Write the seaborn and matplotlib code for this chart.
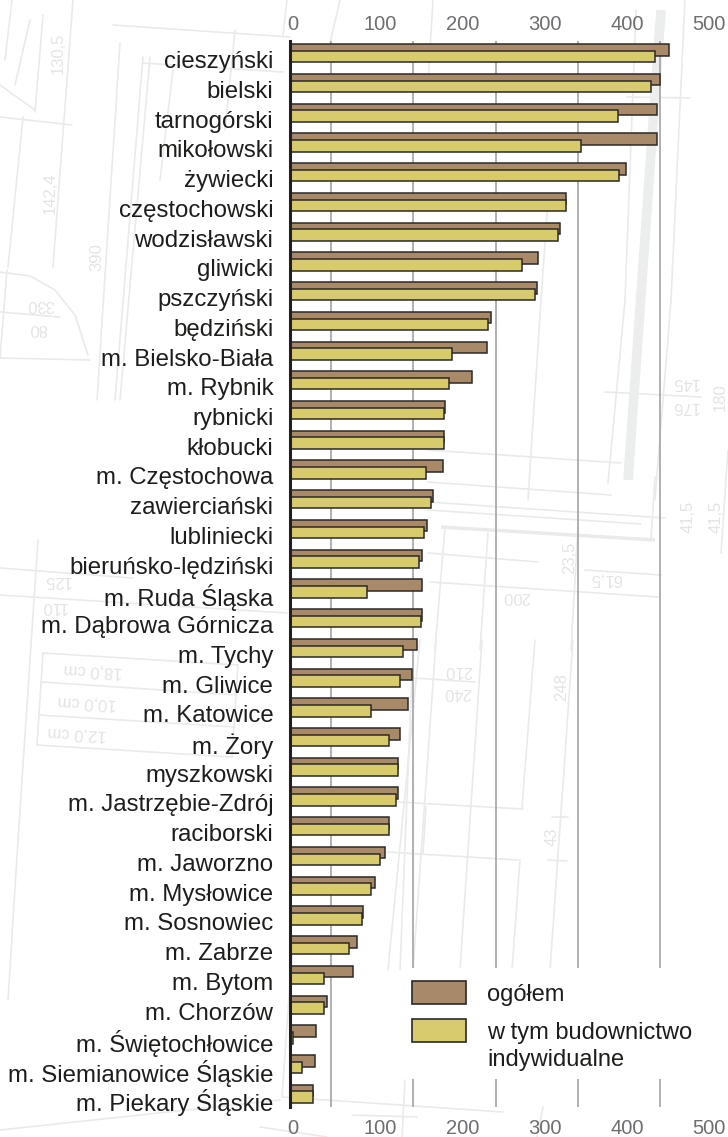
"""
Mieszkania oddane do uzytkowania wg powiatow - poziomy wykres slupkowy
"""

import numpy as np
import matplotlib
matplotlib.use("Agg")
import matplotlib.pyplot as plt
from matplotlib.patches import Rectangle
from matplotlib.transforms import ScaledTranslation
import seaborn as sns

# ── Data ──────────────────────────────────────────────────────────────────────
powiaty = [
    "cieszyński", "bielski", "tarnogórski", "mikołowski", "żywiecki",
    "częstochowski", "wodzisławski", "gliwicki", "pszczyński", "będziński",
    "m. Bielsko-Biała", "m. Rybnik", "rybnicki", "kłobucki", "m. Częstochowa",
    "zawierciański", "lubliniecki", "bieruńsko-lędziński", "m. Ruda Śląska",
    "m. Dąbrowa Górnicza", "m. Tychy", "m. Gliwice", "m. Katowice", "m. Żory",
    "myszkowski", "m. Jastrzębie-Zdrój", "raciborski", "m. Jaworzno",
    "m. Mysłowice", "m. Sosnowiec", "m. Zabrze", "m. Bytom", "m. Chorzów",
    "m. Świętochłowice", "m. Siemianowice Śląskie", "m. Piekary Śląskie",
]
ogolem = [
    461, 450, 447, 447, 409, 336, 328, 302, 300, 245, 240, 222, 188, 187, 186,
    174, 167, 161, 160, 160, 154, 149, 144, 134, 131, 131, 120, 115, 104, 89,
    81, 77, 45, 32, 30, 28,
]
indywidualne = [
    444, 439, 399, 354, 400, 336, 326, 282, 298, 241, 197, 194, 187, 187, 165,
    172, 163, 157, 94, 159, 138, 134, 98, 121, 131, 129, 120, 109, 99, 88,
    72, 41, 41, 4, 15, 28,
]
x_ticks = [0, 100, 200, 300, 400, 500]
x_grid = [50, 100, 150, 200, 250, 300, 350, 400, 450, 500]

# faint blueprint behind the chart, in image pixels (x0, y0, x1, y1)
blueprint_lines = [
    # top left
    (43, 15, 35, 112), (73, 0, 53, 267), (23, 117, 8, 267), (0, 117, 72, 125),
    (0, 85, 35, 110), (0, 312, 60, 317), (0, 358, 90, 360), (7, 270, 0, 358),
    (120, 43, 97, 400), (143, 57, 115, 400), (150, 57, 120, 400),
    (113, 25, 290, 37), (143, 63, 283, 72), (173, 70, 160, 180),
    (235, 30, 225, 130), (287, 0, 283, 35), (12, 0, 5, 60), (30, 20, 15, 85),
    # left, table
    (0, 568, 133, 578), (0, 595, 287, 613), (38, 540, 18, 840), (18, 840, 8, 1000),
    (43, 653, 238, 665), (238, 665, 232, 757), (232, 757, 37, 745), (37, 745, 43, 653),
    (42, 682, 237, 695), (39, 715, 235, 727),
    # right
    (671, 300, 655, 500), (625, 300, 608, 483), (541, 300, 528, 500),
    (428, 450, 621, 463), (428, 482, 611, 495), (428, 502, 665, 518),
    (428, 510, 641, 524), (428, 553, 538, 562), (430, 582, 658, 597),
    (605, 392, 701, 397), (585, 570, 661, 575), (445, 527, 435, 650),
    (488, 533, 480, 650), (578, 527, 571, 650), (655, 477, 651, 540),
    (728, 450, 721, 553), (636, 10, 625, 300), (685, 0, 671, 300),
    (627, 97, 690, 98), (433, 0, 428, 83), (340, 0, 330, 43), (541, 300, 548, 200),
    # middle
    (482, 640, 460, 970), (535, 640, 522, 808), (520, 860, 512, 970),
    (573, 640, 550, 970), (436, 640, 413, 970), (420, 640, 388, 970),
    (412, 673, 400, 970), (413, 678, 475, 682), (397, 802, 523, 809),
    (387, 852, 518, 860), (426, 807, 423, 853), (552, 817, 568, 817),
    (548, 860, 567, 861),
    # bottom
    (293, 940, 282, 1097), (282, 1097, 503, 1112), (352, 1115, 417, 1117),
    (260, 1127, 327, 1137), (543, 1107, 537, 1137), (405, 1080, 402, 1137),
    (0, 1130, 280, 1100),
]
blueprint_texts = [
    ("130,5", 58, 53, 90), ("142,4", 50, 193, 90), ("390", 97, 257, 90),
    ("330", 40, 305, 180), ("80", 38, 328, 180), ("125", 57, 580, 180),
    ("110", 53, 607, 180), ("18,0 cm", 93, 670, 177), ("10,0 cm", 87, 702, 177),
    ("12,0 cm", 77, 733, 177), ("145", 685, 383, 180), ("176", 685, 407, 180),
    ("180", 720, 397, 90), ("41,5", 688, 517, 90), ("41,5", 716, 517, 90),
    ("23,5", 570, 558, 90), ("61,5", 606, 578, 180), ("200", 516, 597, 180),
    ("210", 458, 670, 180), ("240", 457, 692, 180), ("248", 562, 687, 90),
    ("43", 552, 837, 90),
]

# ── Layout ────────────────────────────────────────────────────────────────────
W, H = 728, 1137
X0, X1 = 290, 728
Y0, Y1 = 41, 1107
ROW_H = 29.73
FIRST_ROW = 56.7
PX_PER_UNIT = 0.822
BROWN = "#a98a68"
YELLOW = "#d8cb6c"
EDGE = "#2b2a29"
GRID = "#a3a3a3"
TICK_TEXT = "#6d6e71"
DARK_TEXT = "#1d1d1b"
FAINT = "#e9ebeb"

sns.set_theme(style="white")
plt.rcParams["font.family"] = ["Liberation Sans", "DejaVu Sans"]

fig = plt.figure(figsize=(W / 100, H / 100), dpi=100)

# ── Blueprint background ──────────────────────────────────────────────────────
bg = fig.add_axes([0, 0, 1, 1], zorder=0)
bg.set_xlim(0, W)
bg.set_ylim(H, 0)
bg.axis("off")
for x0, y0, x1, y1 in blueprint_lines:
    bg.plot([x0, x1], [y0, y1], color=FAINT, lw=1.2)
bg.plot([661, 628], [10, 480], color="#eceeee", lw=7, solid_capstyle="butt")
bg.plot([441, 655], [527, 540], color=FAINT, lw=2.5, solid_capstyle="butt")
# door swing
bg.plot([0, 30, 55, 75, 88], [272, 276, 290, 315, 355], color=FAINT, lw=1.2)
for txt, x, y, rot in blueprint_texts:
    bg.text(x, y, txt, color="#e3e5e5", fontsize=12, rotation=rot, ha="center", va="center")

# ── Bars ──────────────────────────────────────────────────────────────────────
ax = fig.add_axes([X0 / W, 1 - Y1 / H, (X1 - X0) / W, (Y1 - Y0) / H], zorder=1)
ax.patch.set_alpha(0)

rows = np.arange(len(powiaty))
offset = 6.7 / ROW_H
bar_w = 11.5 / ROW_H

sns.barplot(
    x=ogolem, y=rows - offset, orient="y", native_scale=True, width=bar_w,
    color=BROWN, saturation=1, edgecolor=EDGE, linewidth=1.1, errorbar=None, ax=ax,
)
sns.barplot(
    x=indywidualne, y=rows, orient="y", native_scale=True, width=bar_w,
    color=YELLOW, saturation=1, edgecolor=EDGE, linewidth=1.1, errorbar=None, ax=ax,
)

ax.set_xlim(0, (X1 - X0) / PX_PER_UNIT)
ax.set_ylim((Y1 - FIRST_ROW) / ROW_H, (Y0 - FIRST_ROW) / ROW_H)

# ── Axes ──────────────────────────────────────────────────────────────────────
ax.set_axisbelow(True)
ax.set_xticks(x_grid, minor=True)
ax.xaxis.grid(True, which="minor", color=GRID, lw=1.2)
ax.set_xticks(x_ticks)
ax.xaxis.grid(False, which="major")
ax.tick_params(axis="x", which="both", length=0)
ax.tick_params(axis="x", top=True, labeltop=True, bottom=True, labelbottom=True,
               labelsize=14.5, labelcolor=TICK_TEXT, pad=9)

# labels in the original sit a bit to the right of their gridlines
for tick, val in zip(ax.xaxis.get_major_ticks(), x_ticks):
    dx = 3 if val == 0 else 8
    tick.label1.set_transform(tick.label1.get_transform()
                              + ScaledTranslation(dx / 100, 0, fig.dpi_scale_trans))
    tick.label2.set_transform(tick.label2.get_transform()
                              + ScaledTranslation(dx / 100, -5 / 100, fig.dpi_scale_trans))

ax.set_yticks(rows)
ax.set_yticklabels(powiaty, fontsize=17.3, color=DARK_TEXT)
ax.tick_params(axis="y", length=0, pad=12)
for lab in ax.get_yticklabels():
    lab.set_transform(lab.get_transform() + ScaledTranslation(0, -3 / 100, fig.dpi_scale_trans))

ax.set_xlabel("")
ax.set_ylabel("")
sns.despine(ax=ax, top=True, right=True, bottom=True)
ax.spines["left"].set_color("#231f20")
ax.spines["left"].set_linewidth(2.2)

# ── Legend (white box cuts the gridlines, second handle sits on the first line) ──
key = fig.add_axes([0, 0, 1, 1], zorder=2)
key.set_xlim(0, W)
key.set_ylim(H, 0)
key.axis("off")
key.add_patch(Rectangle((402, 968), W - 402, 111, facecolor="white", edgecolor="none"))
key.add_patch(Rectangle((412, 981), 54, 23, facecolor=BROWN, edgecolor=EDGE, lw=1.2))
key.add_patch(Rectangle((412, 1019), 54, 23, facecolor=YELLOW, edgecolor=EDGE, lw=1.2))
key.text(487, 1001, "ogółem", fontsize=17, color=DARK_TEXT, va="baseline")
key.text(487, 1039, "w tym budownictwo", fontsize=17, color=DARK_TEXT, va="baseline")
key.text(487, 1066, "indywidualne", fontsize=17, color=DARK_TEXT, va="baseline")

fig.savefig("out.png", dpi=100)
